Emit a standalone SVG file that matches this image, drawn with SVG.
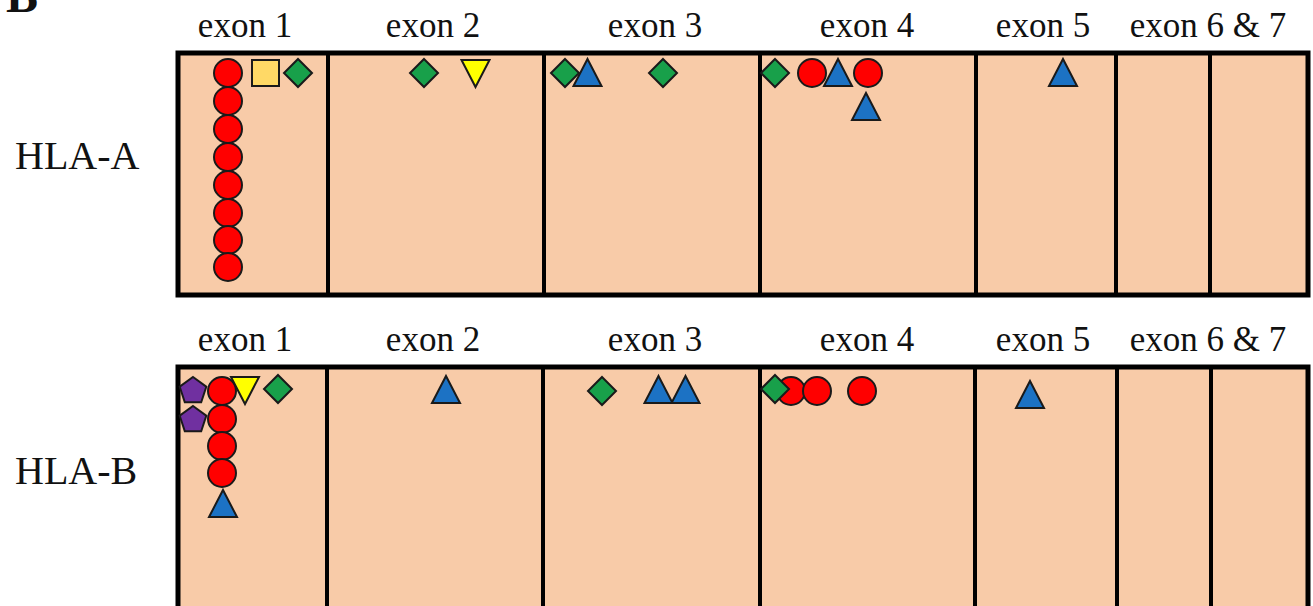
<svg xmlns="http://www.w3.org/2000/svg" xmlns:xlink="http://www.w3.org/1999/xlink" width="1313" height="606" viewBox="0 0 1313 606">
<style>
  .lbl { font-family: "Liberation Serif", "Times New Roman", serif; font-size: 35px; fill: #111; text-anchor: middle; }
  .gene { font-family: "Liberation Serif", "Times New Roman", serif; font-size: 40px; fill: #111; }
  .panel { fill: #F8CBA8; stroke: #000; stroke-width: 5; }
  .div { stroke: #000; stroke-width: 4; }
  .sym { stroke: #1a1a1a; stroke-width: 2; stroke-linejoin: miter; }
  .red { fill: #FF0000; }
  .blue { fill: #1C72C4; }
  .green { fill: #18A04A; }
  .yellow { fill: #FFFF00; }
  .gold { fill: #FFD966; }
  .purple { fill: #7030A0; }
</style>
<defs>
  <circle id="circ" r="14" class="sym red"/>
  <path id="tri" d="M0,-14 L14,13 L-14,13 Z" class="sym blue"/>
  <path id="tridown" d="M-14,-13 L14,-13 L0,14 Z" class="sym yellow"/>
  <path id="dia" d="M0,-14 L14,0 L0,14 L-14,0 Z" class="sym green"/>
  <rect id="sq" x="-13.5" y="-13" width="27" height="26" class="sym gold"/>
  <path id="pent" d="M0,-14 L13.3,-4.3 L8.2,11.3 L-8.2,11.3 L-13.3,-4.3 Z" class="sym purple"/>
</defs>
<rect width="1313" height="606" fill="#fff"/>
<text x="6" y="12" style="font-family:'Liberation Serif','Times New Roman',serif;font-size:48px;font-weight:bold;fill:#111">B</text>

<g id="hla-a">
  <text class="gene" x="15" y="169">HLA-A</text>
  <rect class="panel" x="178" y="53" width="1130" height="242"/>
  <line class="div" x1="328" y1="53" x2="328" y2="295"/>
  <line class="div" x1="544" y1="53" x2="544" y2="295"/>
  <line class="div" x1="760" y1="53" x2="760" y2="295"/>
  <line class="div" x1="976" y1="53" x2="976" y2="295"/>
  <line class="div" x1="1116" y1="53" x2="1116" y2="295"/>
  <line class="div" x1="1210" y1="53" x2="1210" y2="295"/>
  <g id="a-labels">
    <text class="lbl" x="245" y="37">exon 1</text>
    <text class="lbl" x="433" y="37">exon 2</text>
    <text class="lbl" x="655" y="37">exon 3</text>
    <text class="lbl" x="867" y="37">exon 4</text>
    <text class="lbl" x="1043" y="37">exon 5</text>
    <text class="lbl" x="1208" y="37">exon 6 &amp; 7</text>
  </g>
  <g id="a-exon1">
    <use xlink:href="#circ" x="228" y="73"/>
    <use xlink:href="#circ" x="228" y="101"/>
    <use xlink:href="#circ" x="228" y="129"/>
    <use xlink:href="#circ" x="228" y="157"/>
    <use xlink:href="#circ" x="228" y="185"/>
    <use xlink:href="#circ" x="228" y="213"/>
    <use xlink:href="#circ" x="228" y="240"/>
    <use xlink:href="#circ" x="228" y="267"/>
    <use xlink:href="#sq" x="265.5" y="73"/>
    <use xlink:href="#dia" x="298" y="73"/>
  </g>
  <g id="a-exon2">
    <use xlink:href="#dia" x="424" y="73"/>
    <use xlink:href="#tridown" x="475.5" y="73"/>
  </g>
  <g id="a-exon3">
    <use xlink:href="#dia" x="565" y="73"/>
    <use xlink:href="#tri" x="587.5" y="73"/>
    <use xlink:href="#dia" x="663" y="73"/>
  </g>
  <g id="a-exon4">
    <use xlink:href="#dia" x="775" y="73"/>
    <use xlink:href="#circ" x="812" y="73"/>
    <use xlink:href="#tri" x="838" y="73"/>
    <use xlink:href="#circ" x="868" y="73"/>
    <use xlink:href="#tri" x="866" y="107"/>
  </g>
  <g id="a-exon5">
    <use xlink:href="#tri" x="1063" y="73"/>
  </g>
</g>

<g id="hla-b">
  <text class="gene" x="15" y="484">HLA-B</text>
  <rect class="panel" x="178" y="367" width="1130" height="244"/>
  <line class="div" x1="327" y1="367" x2="327" y2="611"/>
  <line class="div" x1="543" y1="367" x2="543" y2="611"/>
  <line class="div" x1="760" y1="367" x2="760" y2="611"/>
  <line class="div" x1="975" y1="367" x2="975" y2="611"/>
  <line class="div" x1="1117" y1="367" x2="1117" y2="611"/>
  <line class="div" x1="1211" y1="367" x2="1211" y2="611"/>
  <g id="b-labels">
    <text class="lbl" x="245" y="351">exon 1</text>
    <text class="lbl" x="433" y="351">exon 2</text>
    <text class="lbl" x="655" y="351">exon 3</text>
    <text class="lbl" x="867" y="351">exon 4</text>
    <text class="lbl" x="1043" y="351">exon 5</text>
    <text class="lbl" x="1208" y="351">exon 6 &amp; 7</text>
  </g>
  <g id="b-exon1">
    <use xlink:href="#pent" x="193" y="391"/>
    <use xlink:href="#pent" x="193" y="420"/>
    <use xlink:href="#circ" x="222" y="391"/>
    <use xlink:href="#circ" x="222" y="419"/>
    <use xlink:href="#circ" x="222" y="446"/>
    <use xlink:href="#circ" x="222" y="473"/>
    <use xlink:href="#tridown" x="245" y="390"/>
    <use xlink:href="#dia" x="278" y="389"/>
    <use xlink:href="#tri" x="223" y="504"/>
  </g>
  <g id="b-exon2">
    <use xlink:href="#tri" x="446" y="390"/>
  </g>
  <g id="b-exon3">
    <use xlink:href="#dia" x="602" y="391"/>
    <use xlink:href="#tri" x="658.5" y="390"/>
    <use xlink:href="#tri" x="685.5" y="390"/>
  </g>
  <g id="b-exon4">
    <use xlink:href="#circ" x="791" y="391"/>
    <use xlink:href="#dia" x="775" y="389"/>
    <use xlink:href="#circ" x="817" y="391"/>
    <use xlink:href="#circ" x="862" y="391"/>
  </g>
  <g id="b-exon5">
    <use xlink:href="#tri" x="1030" y="395"/>
  </g>
</g>
<g id="connectors"/>
</svg>
